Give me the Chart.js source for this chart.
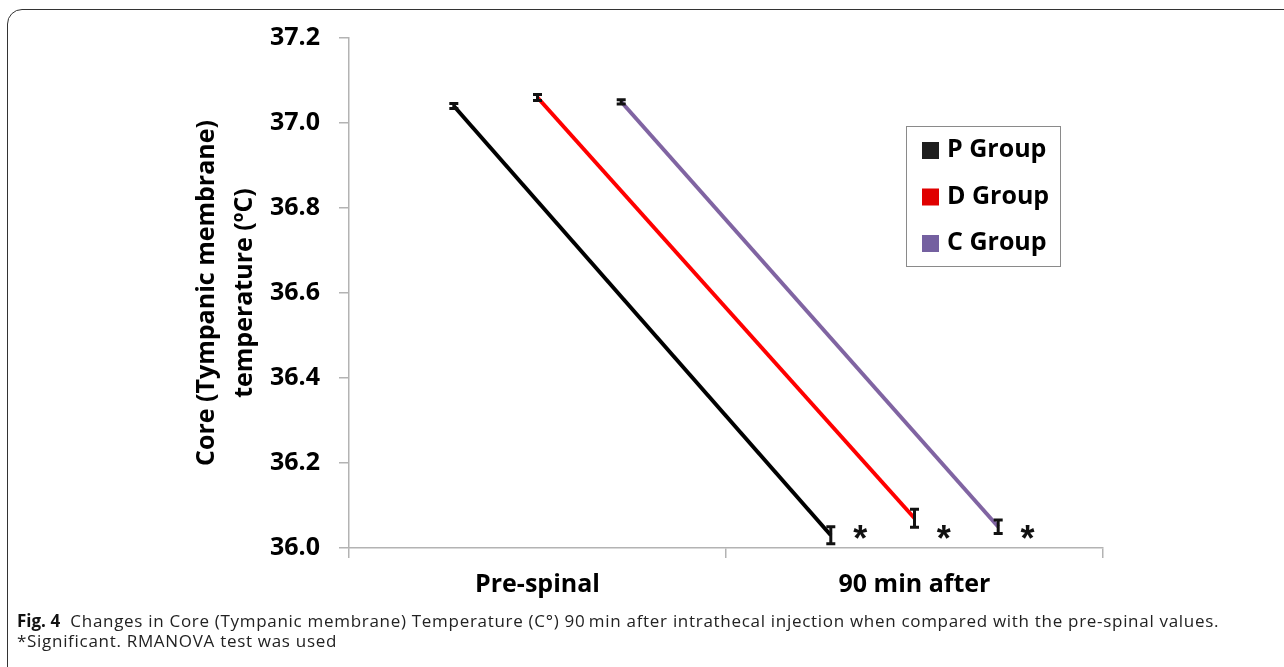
<!DOCTYPE html>
<html>
<head>
<meta charset="utf-8">
<script src="https://cdn.jsdelivr.net/npm/chart.js@4.4.0/dist/chart.umd.min.js"></script>
<style>
  html, body { margin: 0; padding: 0; width: 1284px; height: 667px; overflow: hidden; background: #fff; }
  .frame { position: absolute; left: 7px; top: 9px; width: 1300px; height: 680px; border: 1.5px solid #333; border-radius: 15px; }
  .wrap { position: absolute; left: 0; top: 0; width: 1284px; height: 610px; }
  .caption { position: absolute; left: 17px; top: 611px; font-family: "Open Sans", sans-serif; font-size: 17px; letter-spacing: 0.7px; line-height: 20px; color: #222; white-space: nowrap; }
  .caption b { color: #111; letter-spacing: 0; }
</style>
</head>
<body>
<div class="frame"></div>
<div class="wrap"><canvas id="myChart"></canvas></div>
<div class="caption"><b>Fig. 4</b>&nbsp; Changes in Core (Tympanic membrane) Temperature (C°) 90&#8201;min after intrathecal injection when compared with the pre-spinal values.<br>*Significant. RMANOVA test was used</div>
<script>
// data
var categories = ['Pre-spinal', '90 min after'];
var groups = ['P Group', 'D Group', 'C Group'];
var pGroup = [37.04, 36.03];
var pErr = [0.006, 0.02];
var dGroup = [37.06, 36.07];
var dErr = [0.007, 0.021];
var cGroup = [37.05, 36.05];
var cErr = [0.005, 0.016];
var significant = [false, true];
var yTicks = [36.0, 36.2, 36.4, 36.6, 36.8, 37.0, 37.2];

var colors = ['#000000', '#ff0000', '#8064a2'];
var swatch = ['#1e1e1e', '#e00000', '#7460a0'];
var shift = [-0.222, 0, 0.222]; // horizontal offset of each group inside a category

var values = [pGroup, dGroup, cGroup];
var errors = [pErr, dErr, cErr];

var datasets = groups.map(function(g, i) {
  return {
    label: g,
    data: categories.map(function(c, j) { return { x: j + 0.5 + shift[i], y: values[i][j] }; }),
    err: errors[i],
    borderColor: colors[i],
    backgroundColor: swatch[i],
    borderWidth: 4,
    pointRadius: 0,
    tension: 0
  };
});

var FONT = '"Open Sans", sans-serif';

var errorBars = {
  id: 'errorBars',
  afterDatasetsDraw: function(chart) {
    var ctx = chart.ctx, ys = chart.scales.y, xs = chart.scales.x;
    ctx.save();
    ctx.strokeStyle = '#111';
    ctx.lineWidth = 3;
    chart.data.datasets.forEach(function(ds) {
      ds.data.forEach(function(p, j) {
        var x = xs.getPixelForValue(p.x);
        var top = ys.getPixelForValue(p.y + ds.err[j]);
        var bot = ys.getPixelForValue(p.y - ds.err[j]);
        ctx.beginPath();
        ctx.moveTo(x, top); ctx.lineTo(x, bot);
        ctx.moveTo(x - 4.5, top); ctx.lineTo(x + 4.5, top);
        ctx.moveTo(x - 4.5, bot); ctx.lineTo(x + 4.5, bot);
        ctx.stroke();
      });
      // significance marks
      ds.data.forEach(function(p, j) {
        if (!significant[j]) return;
        var x = xs.getPixelForValue(p.x + 0.078);
        var y = ys.getPixelForValue(36.035);
        ctx.fillStyle = '#111';
        ctx.font = 'bold 36px "Liberation Mono", monospace';
        ctx.textAlign = 'center';
        ctx.textBaseline = 'alphabetic';
        ctx.fillText('*', x, y + 19);
      });
    });
    ctx.restore();
  }
};

var boxLegend = {
  id: 'boxLegend',
  afterDraw: function(chart) {
    var ctx = chart.ctx, a = chart.chartArea;
    var left = a.right - 197, top = a.top + 88;
    ctx.save();
    ctx.strokeStyle = '#8a8a8a';
    ctx.lineWidth = 1;
    ctx.strokeRect(left + 0.5, top + 0.5, 154, 140);
    ctx.font = 'bold 25px ' + FONT;
    ctx.textBaseline = 'middle';
    ctx.textAlign = 'left';
    chart.data.datasets.forEach(function(ds, i) {
      var cy = top + 24 + i * 46.5;
      ctx.fillStyle = ds.backgroundColor;
      ctx.fillRect(left + 16, cy - 8, 17, 17);
      ctx.fillStyle = '#000';
      ctx.fillText(ds.label, left + 41, cy);
    });
    ctx.restore();
  }
};

var ctx = document.getElementById('myChart').getContext('2d');
var chart = new Chart(ctx, {
  type: 'line',
  data: { datasets: datasets },
  options: {
    responsive: true,
    maintainAspectRatio: false,
    animation: false,
    layout: { padding: { left: 188, right: 181, top: 38, bottom: 0 } },
    plugins: { legend: { display: false }, tooltip: { enabled: false } },
    scales: {
      x: {
        type: 'linear',
        min: 0, max: 2,
        afterBuildTicks: function(s) { s.ticks = [0, 0.5, 1, 1.5, 2].map(function(v) { return { value: v }; }); },
        afterFit: function(s) { s.height = 62; },
        ticks: {
          autoSkip: false, maxRotation: 0, padding: 12, color: '#000',
          font: { family: FONT, size: 25, weight: 'bold' },
          callback: function(v) { return Number.isInteger(v) ? '' : categories[Math.floor(v)]; }
        },
        grid: {
          drawOnChartArea: false, tickLength: 10, lineWidth: 1.5,
          color: function(c) { return c.tick && !Number.isInteger(c.tick.value) ? 'rgba(0,0,0,0)' : '#b3b3b3'; }
        },
        border: { color: '#b3b3b3', width: 1.5 }
      },
      y: {
        min: 36, max: 37.2,
        afterBuildTicks: function(s) { s.ticks = yTicks.map(function(v) { return { value: v }; }); },
        afterFit: function(s) { s.width = 161; },
        ticks: {
          padding: 19, color: '#000',
          font: { family: FONT, size: 25, weight: 'bold' },
          callback: function(v) { return Number(v).toFixed(1); }
        },
        grid: { drawOnChartArea: false, tickLength: 10, color: '#b3b3b3', lineWidth: 1.5 },
        border: { color: '#b3b3b3', width: 1.5 },
        title: {
          display: true,
          text: ['Core (Tympanic membrane)', 'temperature (ºC)'],
          color: '#000',
          padding: 0,
          font: { family: FONT, size: 25, weight: 'bold', lineHeight: 1.52 }
        }
      }
    }
  },
  plugins: [errorBars, boxLegend]
});
</script>
</body>
</html>
